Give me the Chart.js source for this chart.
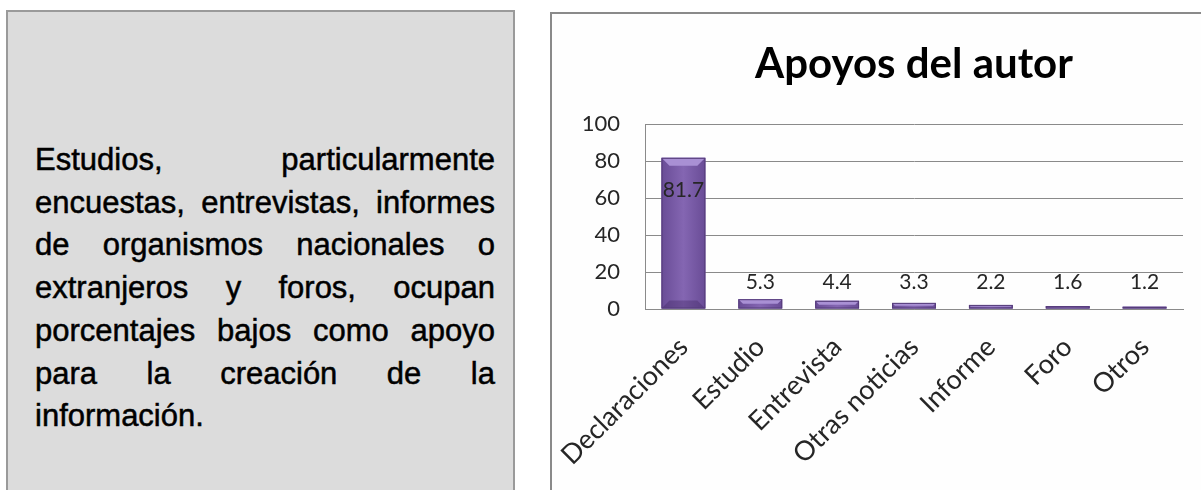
<!DOCTYPE html>
<html lang="es">
<head>
<meta charset="utf-8">
<title>Apoyos del autor</title>
<script src="https://cdn.jsdelivr.net/npm/chart.js@4.4.1/dist/chart.umd.min.js"></script>
<style>
  html, body { margin: 0; padding: 0; background: #fff; width: 1201px; height: 490px; overflow: hidden; }
  .note {
    position: absolute; left: 6px; top: 10px; width: 509px; height: 500px;
    box-sizing: border-box; border: 2px solid #9a9a9a; background: #dcdcdc;
  }
  .note p {
    position: absolute; left: 27px; right: 18px; top: 127px; margin: 0;
    font-family: "Liberation Sans", Arial, sans-serif; font-size: 31px; line-height: 42.7px;
    color: #000; text-align: justify; -webkit-text-stroke: 0.5px #000;
  }
  .panel {
    position: absolute; left: 550px; top: 12px; width: 700px; height: 500px;
    box-sizing: border-box; border: 2px solid #8a8a8a; background: #fefefe;
  }
  #chart { position: absolute; left: 552px; top: 14px; }
</style>
</head>
<body>
<div class="note">
  <p>Estudios, particularmente encuestas, entrevistas, informes de organismos nacionales o extranjeros y foros, ocupan porcentajes bajos como apoyo para la creación de la información.</p>
</div>
<div class="panel"></div>
<canvas id="chart" width="649" height="476"></canvas>

<script>
// ---- data ----
const categories = ['Declaraciones', 'Estudio', 'Entrevista', 'Otras noticias', 'Informe', 'Foro', 'Otros'];
const values = [81.7, 5.3, 4.4, 3.3, 2.2, 1.6, 1.2];
const yTicks = [0, 20, 40, 60, 80, 100];
const chartTitle = 'Apoyos del autor';

const FONT = 'Lato, "Open Sans", sans-serif';

// bevel look of the old office bars, drawn over the library's bar elements
const bevelPlugin = {
  id: 'bevel',
  afterDatasetsDraw(chart) {
    const ctx = chart.ctx;
    chart.getDatasetMeta(0).data.forEach(bar => {
      const l = bar.x - bar.width / 2, r = bar.x + bar.width / 2;
      const t = bar.y, b = bar.base, h = b - t;
      ctx.save();
      const g = ctx.createLinearGradient(l, 0, r, 0);
      g.addColorStop(0, '#694c96');
      g.addColorStop(0.5, '#8466b2');
      g.addColorStop(1, '#694c96');
      ctx.fillStyle = g;
      ctx.fillRect(l, t, r - l, h);
      const bv = Math.min(8, h / 2);
      ctx.fillStyle = '#a990d4';
      ctx.beginPath();
      ctx.moveTo(l, t); ctx.lineTo(r, t);
      ctx.lineTo(r - bv, t + bv); ctx.lineTo(l + bv, t + bv);
      ctx.closePath(); ctx.fill();
      if (h > 2 * bv) {
        ctx.fillStyle = 'rgba(60,35,95,0.35)';
        ctx.beginPath();
        ctx.moveTo(l, b); ctx.lineTo(r, b);
        ctx.lineTo(r - bv, b - bv); ctx.lineTo(l + bv, b - bv);
        ctx.closePath(); ctx.fill();
      }
      ctx.strokeStyle = '#553c7a';
      ctx.lineWidth = 1;
      ctx.strokeRect(l + 0.5, t + 0.5, r - l - 1, h - 1);
      ctx.restore();
    });
  }
};

const labelPlugin = {
  id: 'valueLabels',
  afterDatasetsDraw(chart) {
    const ctx = chart.ctx;
    ctx.save();
    ctx.font = '21px ' + FONT;
    ctx.fillStyle = '#262626';
    ctx.textAlign = 'center';
    ctx.textBaseline = 'middle';
    chart.getDatasetMeta(0).data.forEach((bar, i) => {
      const tall = bar.base - bar.y > 60;
      const y = tall ? bar.y + 32 : bar.base - 26;
      ctx.fillText(values[i].toFixed(1), bar.x, y);
    });
    ctx.restore();
  }
};

new Chart(document.getElementById('chart'), {
  type: 'bar',
  data: {
    labels: categories,
    datasets: [{
      data: values,
      backgroundColor: '#7b5ca7',
      borderWidth: 0,
      barPercentage: 0.57,
      categoryPercentage: 1
    }]
  },
  options: {
    responsive: false,
    animation: false,
    devicePixelRatio: 1,
    layout: { padding: { left: 0, right: 18, top: 0, bottom: 0 } },
    plugins: {
      legend: { display: false },
      tooltip: { enabled: false },
      title: {
        display: true, text: chartTitle, fullSize: false, color: '#000',
        font: { family: FONT, size: 42, weight: '700' },
        padding: { top: 25, bottom: 34.6 }
      }
    },
    scales: {
      x: {
        grid: { display: false, drawTicks: false },
        border: { display: true, color: '#8a8a8a' },
        ticks: {
          color: '#262626', font: { family: FONT, size: 27 },
          minRotation: 45, maxRotation: 45, padding: 22, autoSkip: false
        },
        afterFit(s) { s.height = 181; s.paddingLeft = 0; s.paddingRight = 0; }
      },
      y: {
        min: yTicks[0], max: yTicks[yTicks.length - 1],
        afterBuildTicks(s) { s.ticks = yTicks.map(v => ({ value: v })); },
        grid: { color: '#8a8a8a', drawTicks: false },
        border: { display: true, color: '#8a8a8a' },
        ticks: { color: '#262626', font: { family: FONT, size: 22 }, padding: 25 },
        afterFit(s) { s.width = 93; }
      }
    }
  },
  plugins: [bevelPlugin, labelPlugin]
});
</script>
</body>
</html>
